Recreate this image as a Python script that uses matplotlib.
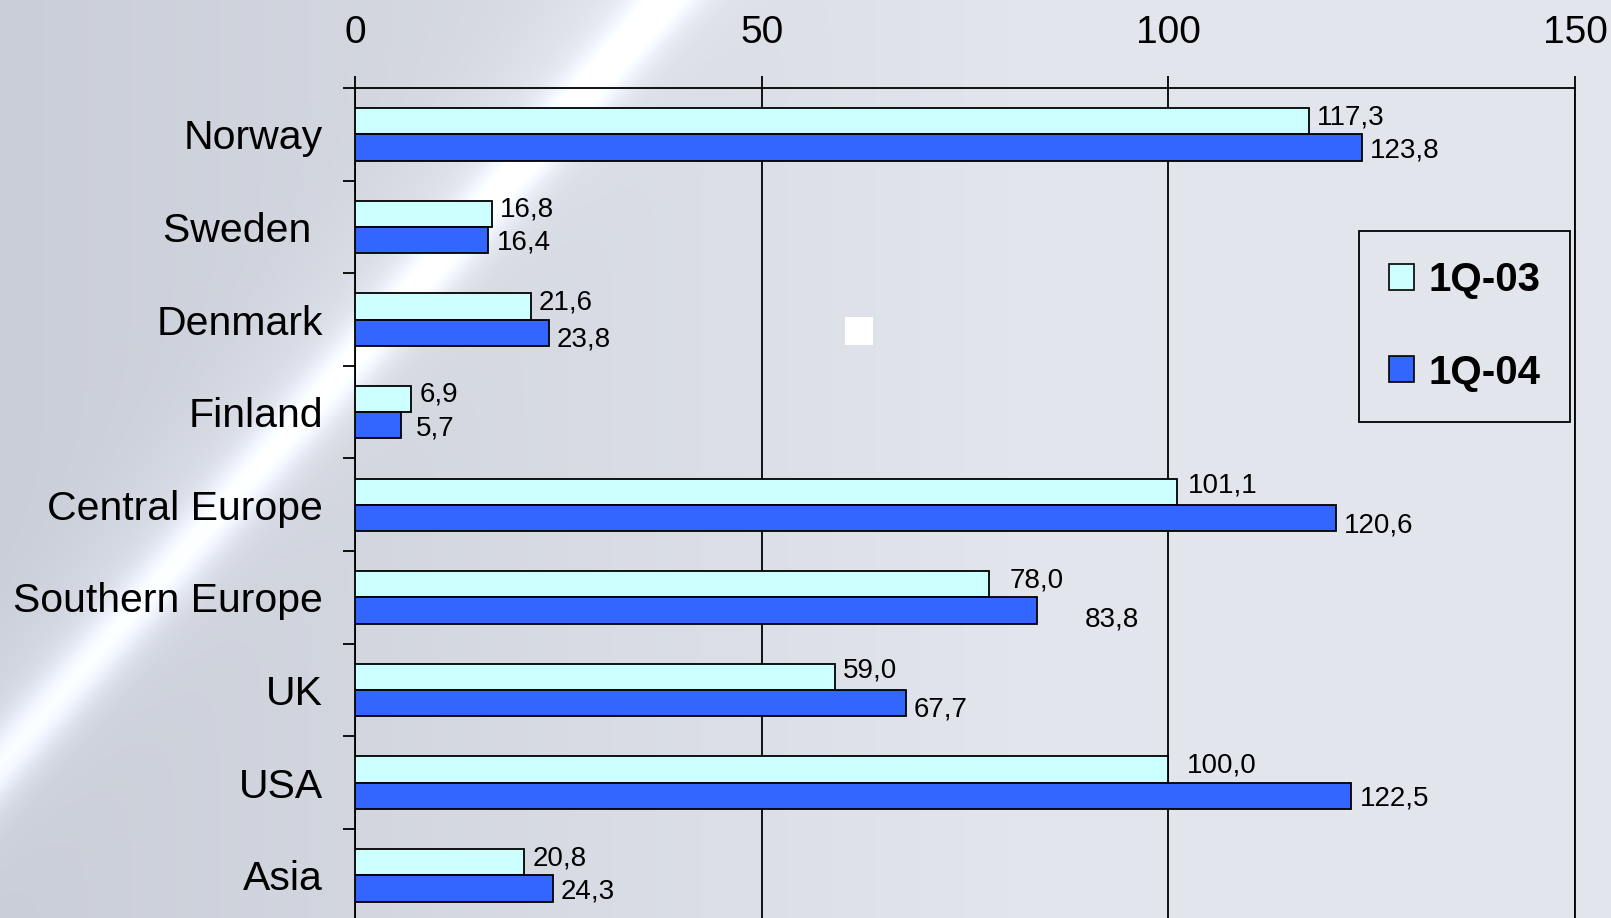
import numpy as np
import matplotlib.pyplot as plt
from matplotlib.patches import Patch, Rectangle

plt.rcParams['font.family'] = ['Liberation Sans', 'DejaVu Sans']

# values per region, two quarters
regions = ["Norway", "Sweden ", "Denmark", "Finland", "Central Europe",
           "Southern Europe", "UK", "USA", "Asia"]
q103 = [117.3, 16.8, 21.6, 6.9, 101.1, 78.0, 59.0, 100.0, 20.8]
q104 = [123.8, 16.4, 23.8, 5.7, 120.6, 83.8, 67.7, 122.5, 24.3]
series_names = ["1Q-03", "1Q-04"]
x_ticks = [0, 50, 100, 150]

c_light = '#CCFFFF'
c_dark = '#3366FF'

W, H = 1611, 918
fig = plt.figure(figsize=(W / 100, H / 100), dpi=100)

# background: grey-blue with a light diagonal streak
bg_ax = fig.add_axes([0, 0, 1, 1], zorder=0)
yy, xx = np.mgrid[0:H, 0:W]
t = np.clip(xx / W * 1.6, 0, 1)
base = np.stack([202 + 24 * t, 206 + 23 * t, 216 + 20 * t], axis=-1)
# streak line roughly x = 665 - 0.87*y
d = (xx - (665 - 0.87 * yy)) / np.sqrt(1 + 0.87 ** 2)
glow = np.exp(-(d / 26) ** 2) * 38 + np.exp(-((d + 20) / 70) ** 2) * 10
img = np.clip(base + glow[..., None], 0, 255) / 255
bg_ax.imshow(img, aspect='auto', extent=[0, W, H, 0])
bg_ax.axis('off')

ax = fig.add_axes([355 / W, (H - 921.6) / H, 1220 / W, 833.6 / H], zorder=1)
ax.patch.set_alpha(0)

n = len(regions)
centers = np.arange(n) + 0.5
bh = 0.283
ax.barh(centers - bh / 2, q103, height=bh, color=c_light, edgecolor='black', linewidth=1.3, zorder=3)
ax.barh(centers + bh / 2, q104, height=bh, color=c_dark, edgecolor='black', linewidth=1.3, zorder=3)

ax.set_xlim(0, 150)
ax.set_ylim(n, 0)

# value labels, a few dragged around like in the original
nudge = {
    ("Southern Europe", 0): (12, 0), ("Southern Europe", 1): (40, -6),
    ("USA", 0): (10, 0), ("Central Europe", 1): (0, -5),
    ("UK", 1): (0, -4), ("Denmark", 1): (0, -4), ("Finland", 1): (6, 0),
    ("Central Europe", 0): (2, 2), ("UK", 0): (0, 2),
}
for i, r in enumerate(regions):
    for k, (vals, dy) in enumerate([(q103, 3), (q104, -2)]):
        nx, ny = nudge.get((r, k), (0, 0))
        yc = centers[i] - bh / 2 if k == 0 else centers[i] + bh / 2
        ax.annotate(f"{vals[i]:.1f}".replace('.', ','), (vals[i], yc),
                    xytext=(6 + nx * 0.72, dy + ny * 0.72), textcoords='offset points',
                    ha='left', va='center', fontsize=20, color='black', zorder=4)

# axis styling
ax.xaxis.tick_top()
ax.set_xticks(x_ticks)
ax.set_xticklabels([str(v) for v in x_ticks], fontsize=28)
ax.tick_params(axis='x', direction='out', length=8.6, width=1.3, pad=18, colors='black')
ax.set_yticks(np.arange(n))
ax.set_yticklabels([])
ax.tick_params(axis='y', which='major', direction='out', length=8.6, width=1.3)
ax.set_yticks(centers, minor=True)
ax.set_yticklabels(regions, minor=True, fontsize=29.5)
ax.tick_params(axis='y', which='minor', length=0, pad=23)
ax.grid(axis='x', color='black', linewidth=1.3, zorder=1)
for s in ['top', 'left', 'right']:
    ax.spines[s].set_linewidth(1.3)
ax.spines['bottom'].set_visible(False)

handles = [Patch(facecolor=c_light, edgecolor='black', linewidth=1.2),
           Patch(facecolor=c_dark, edgecolor='black', linewidth=1.2)]
leg = ax.legend(handles, series_names, loc='upper left',
                bbox_to_anchor=(1359 / W, 1 - 231 / H), bbox_transform=fig.transFigure,
                borderaxespad=0, prop={'size': 29, 'weight': 'bold'},
                handlelength=0.62, handleheight=0.62, handletextpad=0.35,
                labelspacing=1.35, borderpad=0.75, fancybox=False)
frame = leg.get_frame()
frame.set_facecolor('none')
frame.set_edgecolor('black')
frame.set_linewidth(1.3)
frame.set_alpha(None)

# small white square in the middle of the chart
fig.patches.append(Rectangle((845 / W, 1 - 345 / H), 28 / W, 28 / H,
                             transform=fig.transFigure, facecolor='white', edgecolor='none', zorder=2))

fig.savefig('out.png', dpi=100)
